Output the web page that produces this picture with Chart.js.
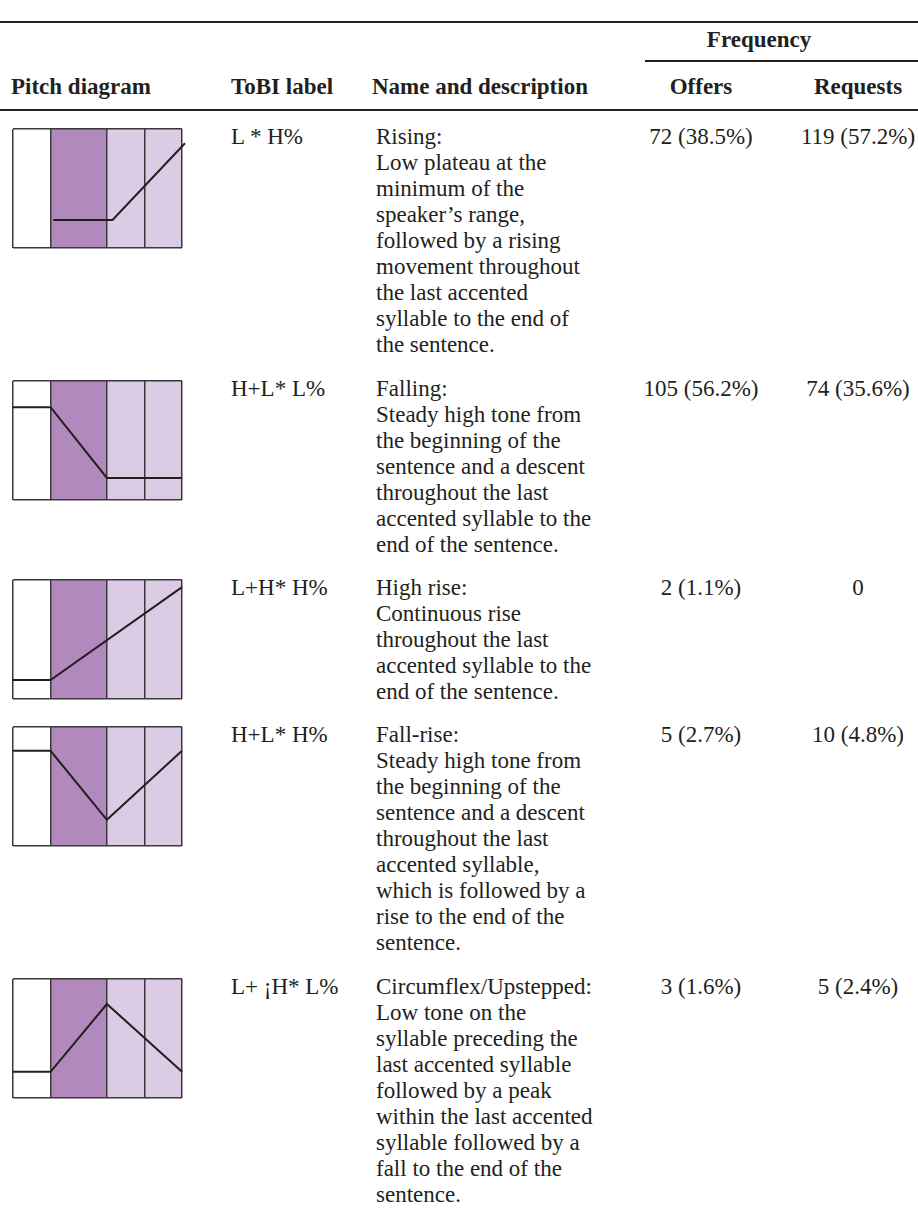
<!DOCTYPE html>
<html>
<head>
<meta charset="utf-8">
<script src="https://cdn.jsdelivr.net/npm/chart.js@4.4.1/dist/chart.umd.min.js"></script>
<style>
    body { margin: 0; background: #fff; }
    #page {
        position: relative;
        width: 918px;
        height: 1216px;
        font-family: 'Liberation Serif', serif;
        font-size: 23px;
        line-height: 26px;
        color: #231f20;
    }
    .abs { position: absolute; white-space: pre; }
    .head { font-weight: bold; }
    .rule { position: absolute; background: #231f20; }
</style>
</head>
<body>
<div id="page"></div>
<script>
// Table data
const tobiLabels = ['L * H%', 'H+L* L%', 'L+H* H%', 'H+L* H%', 'L+ \u00a1H* L%'];
const toneNames = ['Rising:', 'Falling:', 'High rise:', 'Fall-rise:', 'Circumflex/Upstepped:'];
const descriptions = [
    ['Low plateau at the', 'minimum of the', 'speaker\u2019s range,', 'followed by a rising', 'movement throughout', 'the last accented', 'syllable to the end of', 'the sentence.'],
    ['Steady high tone from', 'the beginning of the', 'sentence and a descent', 'throughout the last', 'accented syllable to the', 'end of the sentence.'],
    ['Continuous rise', 'throughout the last', 'accented syllable to the', 'end of the sentence.'],
    ['Steady high tone from', 'the beginning of the', 'sentence and a descent', 'throughout the last', 'accented syllable,', 'which is followed by a', 'rise to the end of the', 'sentence.'],
    ['Low tone on the', 'syllable preceding the', 'last accented syllable', 'followed by a peak', 'within the last accented', 'syllable followed by a', 'fall to the end of the', 'sentence.']
];
const offersCount = [72, 105, 2, 5, 3];
const offersPct = [38.5, 56.2, 1.1, 2.7, 1.6];
const requestsCount = [119, 74, 0, 10, 5];
const requestsPct = [57.2, 35.6, null, 4.8, 2.4];

// Pitch diagram: column edges (pre-tonic, accented syllable, two post-tonic)
const columnEdges = [0, 1, 2.5, 3.5, 4.5];
// Pitch contours, x in column units, y as share of the range
const contourX = [
    [1.07, 2.65, 4.58],
    [0, 1, 2.5, 4.5],
    [0, 1, 4.5],
    [0, 1, 2.5, 4.5],
    [0, 1, 2.5, 4.5]
];
const contourY = [
    [0.235, 0.235, 0.88],
    [0.78, 0.78, 0.185, 0.185],
    [0.16, 0.16, 0.94],
    [0.8, 0.8, 0.22, 0.8],
    [0.22, 0.22, 0.79, 0.22]
];

const colors = {
    ink: '#231f20',
    grid: '#3b383b',
    accent: '#b189bc',
    post: '#dccbe4'
};

// layout
const rowTops = [129, 381, 580, 727, 979];
const boxW = 169, boxH = 119, boxX = 13;
const pad = { left: 3, right: 8, top: 3, bottom: 3 };
const tobiX = 231, descX = 376;

const page = document.getElementById('page');

function addText(text, left, top, extra) {
    const d = document.createElement('div');
    d.className = 'abs' + (extra && extra.cls ? ' ' + extra.cls : '');
    d.textContent = text;
    d.style.left = left + 'px';
    d.style.top = top + 'px';
    if (extra && extra.width) {
        d.style.width = extra.width + 'px';
        d.style.textAlign = extra.align || 'center';
    }
    page.appendChild(d);
    return d;
}

function addRule(left, top, width, height) {
    const r = document.createElement('div');
    r.className = 'rule';
    r.style.left = left + 'px';
    r.style.top = top + 'px';
    r.style.width = width + 'px';
    r.style.height = height + 'px';
    page.appendChild(r);
}

// header
addRule(0, 21, 918, 2.2);
addText('Frequency', 659, 27, { cls: 'head', width: 200 });
addRule(645, 60, 273, 1.5);
addText('Pitch diagram', 11, 74, { cls: 'head' });
addText('ToBI label', tobiX, 74, { cls: 'head' });
addText('Name and description', descX - 4, 74, { cls: 'head' });
addText('Offers', 621, 74, { cls: 'head', width: 160 });
addText('Requests', 778, 74, { cls: 'head', width: 160 });
addRule(0, 109, 918, 1.6);

function fmt(n, p) {
    return p === null ? String(n) : n + ' (' + p.toFixed(1) + '%)';
}

function makeDiagram(i) {
    const canvas = document.createElement('canvas');
    const w = boxW + pad.left + pad.right;
    const h = boxH + pad.top + pad.bottom;
    canvas.width = w;
    canvas.height = h;
    canvas.style.position = 'absolute';
    canvas.style.left = (boxX - pad.left) + 'px';
    canvas.style.top = (rowTops[i] - pad.top) + 'px';
    page.appendChild(canvas);

    const line = contourX[i].map((x, k) => ({ x: x, y: contourY[i][k] }));

    return new Chart(canvas.getContext('2d'), {
        type: 'line',
        data: {
            datasets: [
                {
                    data: [{ x: columnEdges[1], y: 1 }, { x: columnEdges[2], y: 1 }],
                    fill: 'start',
                    backgroundColor: colors.accent,
                    borderWidth: 0,
                    pointRadius: 0
                },
                {
                    data: [{ x: columnEdges[2], y: 1 }, { x: columnEdges[4], y: 1 }],
                    fill: 'start',
                    backgroundColor: colors.post,
                    borderWidth: 0,
                    pointRadius: 0
                },
                {
                    data: line,
                    borderColor: colors.ink,
                    borderWidth: 2,
                    pointRadius: 0,
                    tension: 0,
                    fill: false,
                    clip: false
                }
            ]
        },
        options: {
            responsive: false,
            animation: false,
            layout: { padding: pad },
            plugins: {
                legend: { display: false },
                tooltip: { enabled: false },
                filler: { drawTime: 'beforeDraw' }
            },
            scales: {
                x: {
                    type: 'linear',
                    min: columnEdges[0],
                    max: columnEdges[columnEdges.length - 1],
                    afterBuildTicks: axis => { axis.ticks = columnEdges.map(v => ({ value: v })); },
                    ticks: { display: false },
                    grid: { drawTicks: false, color: colors.grid, lineWidth: 1.5 },
                    border: { display: false }
                },
                y: {
                    type: 'linear',
                    min: 0,
                    max: 1,
                    afterBuildTicks: axis => { axis.ticks = [{ value: 0 }, { value: 1 }]; },
                    ticks: { display: false },
                    grid: { drawTicks: false, color: colors.grid, lineWidth: 1.5 },
                    border: { display: false }
                }
            }
        }
    });
}

// rows
tobiLabels.forEach((label, i) => {
    const top = rowTops[i] - 5;
    makeDiagram(i);
    addText(label, tobiX, top);
    addText([toneNames[i]].concat(descriptions[i]).join('\n'), descX, top);
    addText(fmt(offersCount[i], offersPct[i]), 621, top, { width: 160 });
    addText(fmt(requestsCount[i], requestsPct[i]), 778, top, { width: 160 });
});
</script>
</body>
</html>
